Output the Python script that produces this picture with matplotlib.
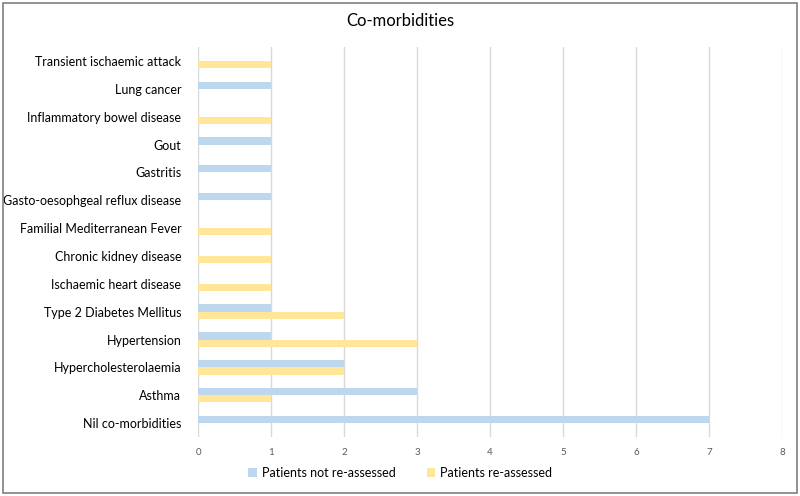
import numpy as np
import matplotlib
matplotlib.use('Agg')
import matplotlib.pyplot as plt
from matplotlib.patches import Rectangle

plt.rcParams['font.family'] = ['Lato', 'DejaVu Sans']

# categories listed bottom to top
categories = ['Nil co-morbidities', 'Asthma', 'Hypercholesterolaemia', 'Hypertension',
              'Type 2 Diabetes Mellitus', 'Ischaemic heart disease', 'Chronic kidney disease',
              'Familial Mediterranean Fever', 'Gasto-oesophgeal reflux disease', 'Gastritis',
              'Gout', 'Inflammatory bowel disease', 'Lung cancer', 'Transient ischaemic attack']
not_reassessed = [7, 3, 2, 1, 1, 0, 0, 0, 1, 1, 1, 0, 1, 0]
reassessed = [0, 1, 2, 3, 2, 1, 1, 1, 0, 0, 0, 1, 0, 1]
x_ticks = [0, 1, 2, 3, 4, 5, 6, 7, 8]

blue = '#BDD7EE'
yellow = '#FFE699'

fig = plt.figure(figsize=(8, 4.96), dpi=100)
ax = fig.add_axes([0.2475, 0.119, 0.73, 0.786])

y = np.arange(len(categories))
h = 0.26
ax.barh(y + h / 2, not_reassessed, height=h, color=blue, label='Patients not re-assessed', zorder=3)
ax.barh(y - h / 2, reassessed, height=h, color=yellow, label='Patients re-assessed', zorder=3)

ax.set_ylim(-0.5, len(categories) - 0.5)
ax.set_xlim(0, 8)
ax.set_yticks(y)
ax.set_yticklabels(categories, fontsize=9, color='black')
ax.set_xticks(x_ticks)
ax.set_xticklabels([str(t) for t in x_ticks], fontsize=7, color='#595959')
ax.tick_params(axis='y', length=0, pad=12)
ax.tick_params(axis='x', length=0, pad=8)
ax.grid(axis='x', color='#D9D9D9', linewidth=1, zorder=0)
for s in ax.spines.values():
    s.set_visible(False)

fig.text(0.5, 0.958, 'Co-morbidities', ha='center', va='center', fontsize=12, color='black')

fig.legend(loc='center', bbox_to_anchor=(0.5, 0.046), ncol=2, frameon=False,
           fontsize=9, handlelength=0.7, handleheight=0.7, columnspacing=2.5, handletextpad=0.4)

# outer frame
fig.patches.append(Rectangle((0.004, 0.006), 0.992, 0.988, transform=fig.transFigure,
                             fill=False, edgecolor='#7F7F7F', linewidth=1.2))

fig.savefig('out.png', dpi=100)
